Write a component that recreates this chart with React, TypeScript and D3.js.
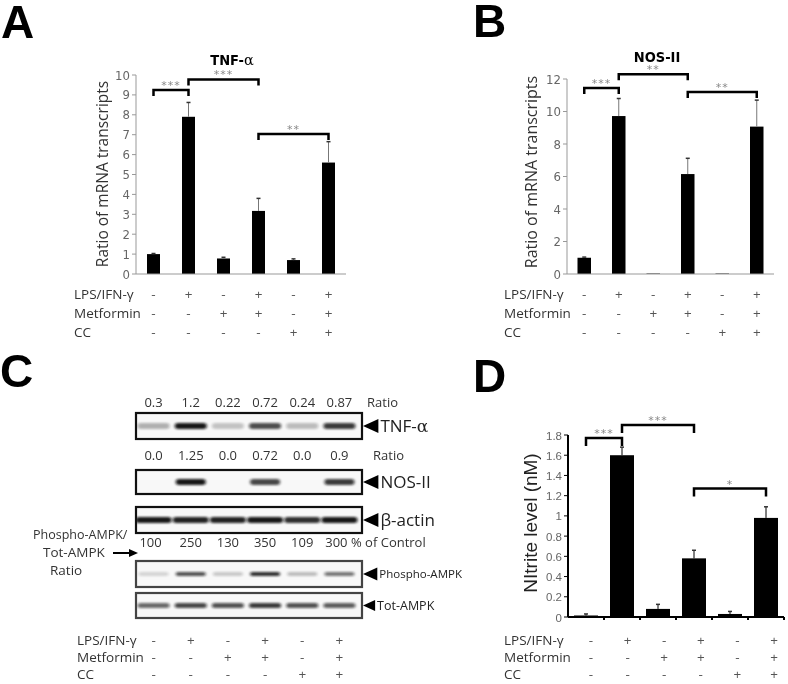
import React from 'react';
import * as d3 from 'd3';

// six treatment groups, same order in every panel
const groups = ['g1', 'g2', 'g3', 'g4', 'g5', 'g6'];
const rowNames = ['LPS/IFN-γ', 'Metformin', 'CC'];
const lpsSigns = ['-', '+', '-', '+', '-', '+'];
const metforminSigns = ['-', '-', '+', '+', '-', '+'];
const ccSigns = ['-', '-', '-', '-', '+', '+'];

// A: TNF-a mRNA
const tnfMean = [1.0, 7.9, 0.78, 3.17, 0.7, 5.6];
const tnfErr = [0.03, 0.72, 0.06, 0.63, 0.06, 1.05];
const tnfTicks = [0, 1, 2, 3, 4, 5, 6, 7, 8, 9, 10];
const tnfSig = [
  { from: 0, to: 1, level: 9.25, label: '***' },
  { from: 1, to: 3, level: 9.78, label: '***' },
  { from: 3, to: 5, level: 7.03, label: '**' },
];

// B: NOS-II mRNA
const nosMean = [1.0, 9.72, 0.03, 6.15, 0.03, 9.07];
const nosErr = [0.04, 1.08, 0, 0.97, 0, 1.63];
const nosTicks = [0, 2, 4, 6, 8, 10, 12];
const nosSig = [
  { from: 0, to: 1, level: 11.45, label: '***' },
  { from: 1, to: 3, level: 12.3, label: '**' },
  { from: 3, to: 5, level: 11.2, label: '**' },
];

// D: nitrite
const nitriteMean = [0.015, 1.6, 0.08, 0.58, 0.03, 0.98];
const nitriteErr = [0.015, 0.08, 0.045, 0.08, 0.025, 0.11];
const nitriteTicks = [0, 0.2, 0.4, 0.6, 0.8, 1, 1.2, 1.4, 1.6, 1.8];
const nitriteSig = [
  { from: 0, to: 1, level: 1.77, label: '***' },
  { from: 1, to: 3, level: 1.9, label: '***' },
  { from: 3, to: 5, level: 1.27, label: '*' },
];

// C: western blot numbers + band darkness
const tnfRatio = ['0.3', '1.2', '0.22', '0.72', '0.24', '0.87'];
const nosRatio = ['0.0', '1.25', '0.0', '0.72', '0.0', '0.9'];
const ampkPercent = ['100', '250', '130', '350', '109', '300'];
const tnfBand = [0.3, 0.95, 0.22, 0.72, 0.25, 0.8];
const nosBand = [0, 0.95, 0, 0.75, 0, 0.8];
const actinBand = [0.95, 0.9, 0.9, 0.95, 0.85, 0.95];
const pAmpkBand = [0.15, 0.7, 0.2, 0.85, 0.25, 0.55];
const totAmpkBand = [0.6, 0.75, 0.7, 0.8, 0.7, 0.65];

const NARROW = "'DejaVu Sans Condensed', 'DejaVu Sans', sans-serif";
const OPEN = "'Open Sans', sans-serif";
const ARIAL = "'Liberation Sans', Arial, sans-serif";

type Sig = { from: number; to: number; level: number; label: string };

const Bracket: React.FC<{ x1: number; x2: number; y: number; arm: number; label: string }> = ({ x1, x2, y, arm, label }) => (
  <g>
    <path d={`M${x1},${y + arm}V${y}H${x2}V${y + arm}`} fill="none" stroke="#000" strokeWidth={2.5} />
    <text x={(x1 + x2) / 2} y={y - 1} textAnchor="middle" fontSize={11} fill="#888" fontFamily="'DejaVu Sans', sans-serif" letterSpacing={1}>
      {label}
    </text>
  </g>
);

const SignRows: React.FC<{ xs: number[]; x0: number; ys: number[] }> = ({ xs, x0, ys }) => {
  const rows = [lpsSigns, metforminSigns, ccSigns];
  return (
    <g fontFamily={OPEN} fontSize={13.5} fill="#333">
      {rowNames.map((name, r) => (
        <text key={name} x={x0} y={ys[r]}>
          {name}
        </text>
      ))}
      {rows.map((row, r) =>
        row.map((s, i) => (
          <text key={`${r}-${i}`} x={xs[i]} y={ys[r]} textAnchor="middle" fill="#555">
            {s}
          </text>
        ))
      )}
    </g>
  );
};

interface BarPanelProps {
  means: number[];
  errs: number[];
  x: d3.ScaleBand<string>;
  y: d3.ScaleLinear<number, number>;
  ticks: number[];
  barW: number;
  sig: Sig[];
  arm: number;
  plain?: boolean; // D style axes
}

const BarPanel: React.FC<BarPanelProps> = ({ means, errs, x, y, ticks, barW, sig, arm, plain }) => {
  const [x0, x1] = x.range();
  const [y0, y1] = y.range();
  const cx = (i: number) => (x(groups[i]) ?? 0) + x.bandwidth() / 2;
  const axisColor = plain ? '#000' : '#999';
  return (
    <g>
      {means.map((m, i) => (
        <rect key={`bar-${i}`} x={cx(i) - barW / 2} y={y(m)} width={barW} height={y0 - y(m)} fill="#000" />
      ))}
      {means.map((m, i) =>
        errs[i] > 0 ? (
          <g key={`err-${i}`} stroke={plain ? '#000' : '#777'} strokeWidth={1}>
            <line x1={cx(i)} x2={cx(i)} y1={y(m)} y2={y(m + errs[i])} />
            <line x1={cx(i) - 2} x2={cx(i) + 2} y1={y(m + errs[i])} y2={y(m + errs[i])} stroke="#333" strokeWidth={1.5} />
          </g>
        ) : null
      )}
      <line x1={x0} x2={x0} y1={y0} y2={y1} stroke={axisColor} strokeWidth={plain ? 2 : 1} />
      <line x1={x0} x2={x1} y1={y0} y2={y0} stroke={axisColor} strokeWidth={plain ? 2 : 1} />
      {ticks.map((t) => (
        <g key={`t-${t}`}>
          <line x1={x0 - 4} x2={x0} y1={y(t)} y2={y(t)} stroke={axisColor} strokeWidth={1} />
          <text
            x={x0 - 6}
            y={y(t) + 4.5}
            textAnchor="end"
            fontSize={plain ? 11.5 : 13}
            fill="#666"
            fontFamily={plain ? ARIAL : NARROW}
          >
            {t}
          </text>
        </g>
      ))}
      {plain &&
        groups.map((g) => (
          <line key={`xt-${g}`} x1={(x(g) ?? 0) + x.step()} x2={(x(g) ?? 0) + x.step()} y1={y0} y2={y0 + 3} stroke="#000" strokeWidth={2} />
        ))}
      {sig.map((s, i) => (
        <Bracket key={`sig-${i}`} x1={cx(s.from)} x2={cx(s.to)} y={y(s.level)} arm={arm} label={s.label} />
      ))}
    </g>
  );
};

// blot lanes
const lane = d3.scaleBand<string>().domain(groups).range([135, 358]);
const laneX = groups.map((g) => (lane(g) ?? 0) + lane.bandwidth() / 2);
const BOX_L = 136;
const BOX_R = 362;

const Blot: React.FC<{
  top: number;
  h: number;
  bands: number[];
  bandW: number;
  bandH: number;
  border: string;
  label: React.ReactNode;
  labelSize: number;
  tri: number;
}> = ({ top, h, bands, bandW, bandH, border, label, labelSize, tri }) => {
  const cy = top + h / 2;
  return (
    <g>
      <rect x={BOX_L} y={top} width={BOX_R - BOX_L} height={h} fill="#f8f8f8" />
      <clipPath id={`clip-${top}`}>
        <rect x={BOX_L} y={top} width={BOX_R - BOX_L} height={h} />
      </clipPath>
      <g clipPath={`url(#clip-${top})`}>
        {bands.map((v, i) =>
          v > 0 ? (
            <rect
              key={i}
              x={laneX[i] - bandW / 2}
              y={cy - bandH / 2}
              width={bandW}
              height={bandH}
              rx={bandH / 2}
              fill="#111"
              opacity={v}
              filter="url(#band-blur)"
            />
          ) : null
        )}
      </g>
      <rect x={BOX_L} y={top} width={BOX_R - BOX_L} height={h} fill="none" stroke={border} strokeWidth={2.2} />
      <path d={`M${BOX_R + 1},${cy}L${BOX_R + 1 + tri * 1.1},${cy - tri / 2}V${cy + tri / 2}Z`} fill="#000" />
      <text x={BOX_R + 3 + tri * 1.1} y={cy + labelSize * 0.36} fontFamily={OPEN} fontSize={labelSize} fill="#222">
        {label}
      </text>
    </g>
  );
};

const App: React.FC = () => {
  const xA = d3.scaleBand<string>().domain(groups).range([136, 346]);
  const yA = d3.scaleLinear().domain([0, 10]).range([274, 75]);
  const xB = d3.scaleBand<string>().domain(groups).range([567, 774]);
  const yB = d3.scaleLinear().domain([0, 12]).range([274, 79]);
  const xD = d3.scaleBand<string>().domain(groups).range([568, 784]);
  const yD = d3.scaleLinear().domain([0, 1.8]).range([617, 435]);
  const centers = (s: d3.ScaleBand<string>) => groups.map((g) => (s(g) ?? 0) + s.bandwidth() / 2);
  const signD = d3.scalePoint<string>().domain(groups).range([591, 774]);

  return (
    <svg width={788} height={684} style={{ position: 'absolute', left: 0, top: 0, background: '#fff', opacity: 0.999 }}>
      <defs>
        <filter id="band-blur" x="-30%" y="-100%" width="160%" height="300%">
          <feGaussianBlur stdDeviation="1.6 1.1" />
        </filter>
      </defs>

      {/* panel letters */}
      <g fontFamily={ARIAL} fontWeight="bold" fontSize={46} fill="#000">
        <text x={1} y={38}>A</text>
        <text x={473} y={37}>B</text>
        <text x={0} y={387}>C</text>
        <text x={473} y={392}>D</text>
      </g>

      {/* A */}
      <text x={232} y={65} textAnchor="middle" fontFamily={NARROW} fontWeight="bold" fontSize={14.5}>
        TNF-<tspan fontFamily="'DejaVu Serif', serif" fontWeight="normal">α</tspan>
      </text>
      <text transform="translate(108,174) rotate(-90)" textAnchor="middle" fontFamily={OPEN} fontSize={15.5} fill="#333">
        Ratio of mRNA  transcripts
      </text>
      <BarPanel means={tnfMean} errs={tnfErr} x={xA} y={yA} ticks={tnfTicks} barW={13} sig={tnfSig} arm={6} />
      <SignRows xs={centers(xA)} x0={74} ys={[299, 318, 337]} />

      {/* B */}
      <text x={657} y={62} textAnchor="middle" fontFamily={NARROW} fontWeight="bold" fontSize={14.5}>
        NOS-II
      </text>
      <text transform="translate(537,172) rotate(-90)" textAnchor="middle" fontFamily={OPEN} fontSize={16} fill="#333">
        Ratio of mRNA  transcripts
      </text>
      <BarPanel means={nosMean} errs={nosErr} x={xB} y={yB} ticks={nosTicks} barW={13.5} sig={nosSig} arm={6} />
      <SignRows xs={centers(xB)} x0={504} ys={[299, 318, 337]} />

      {/* C */}
      <g fontFamily={OPEN} fontSize={13} fill="#333">
        {tnfRatio.map((t, i) => (
          <text key={`r1-${i}`} x={laneX[i]} y={407} textAnchor="middle">{t}</text>
        ))}
        <text x={367} y={407}>Ratio</text>
        {nosRatio.map((t, i) => (
          <text key={`r2-${i}`} x={laneX[i]} y={460} textAnchor="middle">{t}</text>
        ))}
        <text x={373} y={460}>Ratio</text>
        {ampkPercent.map((t, i) => (
          <text key={`r3-${i}`} x={laneX[i] - (i === 0 ? 3 : 0) - (i === 5 ? 3 : 0)} y={547} textAnchor="middle">{t}</text>
        ))}
        <text x={351} y={547}>% of Control</text>
      </g>
      <Blot top={413} h={26} bands={tnfBand} bandW={32} bandH={6} border="#111" label={<>TNF-<tspan fontFamily="'DejaVu Serif', serif">α</tspan></>} labelSize={17} tri={14} />
      <Blot top={470} h={24} bands={nosBand} bandW={30} bandH={6} border="#111" label="NOS-II" labelSize={17} tri={14} />
      <Blot top={507} h={26} bands={actinBand} bandW={36} bandH={6} border="#111" label="β-actin" labelSize={17} tri={14} />
      <Blot top={561} h={26} bands={pAmpkBand} bandW={30} bandH={4} border="#444" label="Phospho-AMPK" labelSize={11.5} tri={13} />
      <Blot top={593} h={25} bands={totAmpkBand} bandW={32} bandH={5} border="#444" label="Tot-AMPK" labelSize={12.5} tri={11} />
      <g fontFamily={OPEN} fill="#333">
        <text x={33} y={539} fontSize={12.5}>Phospho-AMPK/</text>
        <text x={43} y={557} fontSize={13.5}>Tot-AMPK</text>
        <text x={50} y={575} fontSize={13.5}>Ratio</text>
      </g>
      <line x1={113} x2={131} y1={553} y2={553} stroke="#000" strokeWidth={2} />
      <path d="M138,553L129,549V557Z" fill="#000" />
      <SignRows xs={laneX} x0={77} ys={[645, 662, 679]} />

      {/* D */}
      <text transform="translate(537,523) rotate(-90)" textAnchor="middle" fontFamily={ARIAL} fontSize={19} fill="#222">
        NItrite  level (nM)
      </text>
      <BarPanel means={nitriteMean} errs={nitriteErr} x={xD} y={yD} ticks={nitriteTicks} barW={24} sig={nitriteSig} arm={8} plain />
      <SignRows xs={groups.map((g) => signD(g) ?? 0)} x0={504} ys={[645, 662, 679]} />
    </svg>
  );
};

export default App;
